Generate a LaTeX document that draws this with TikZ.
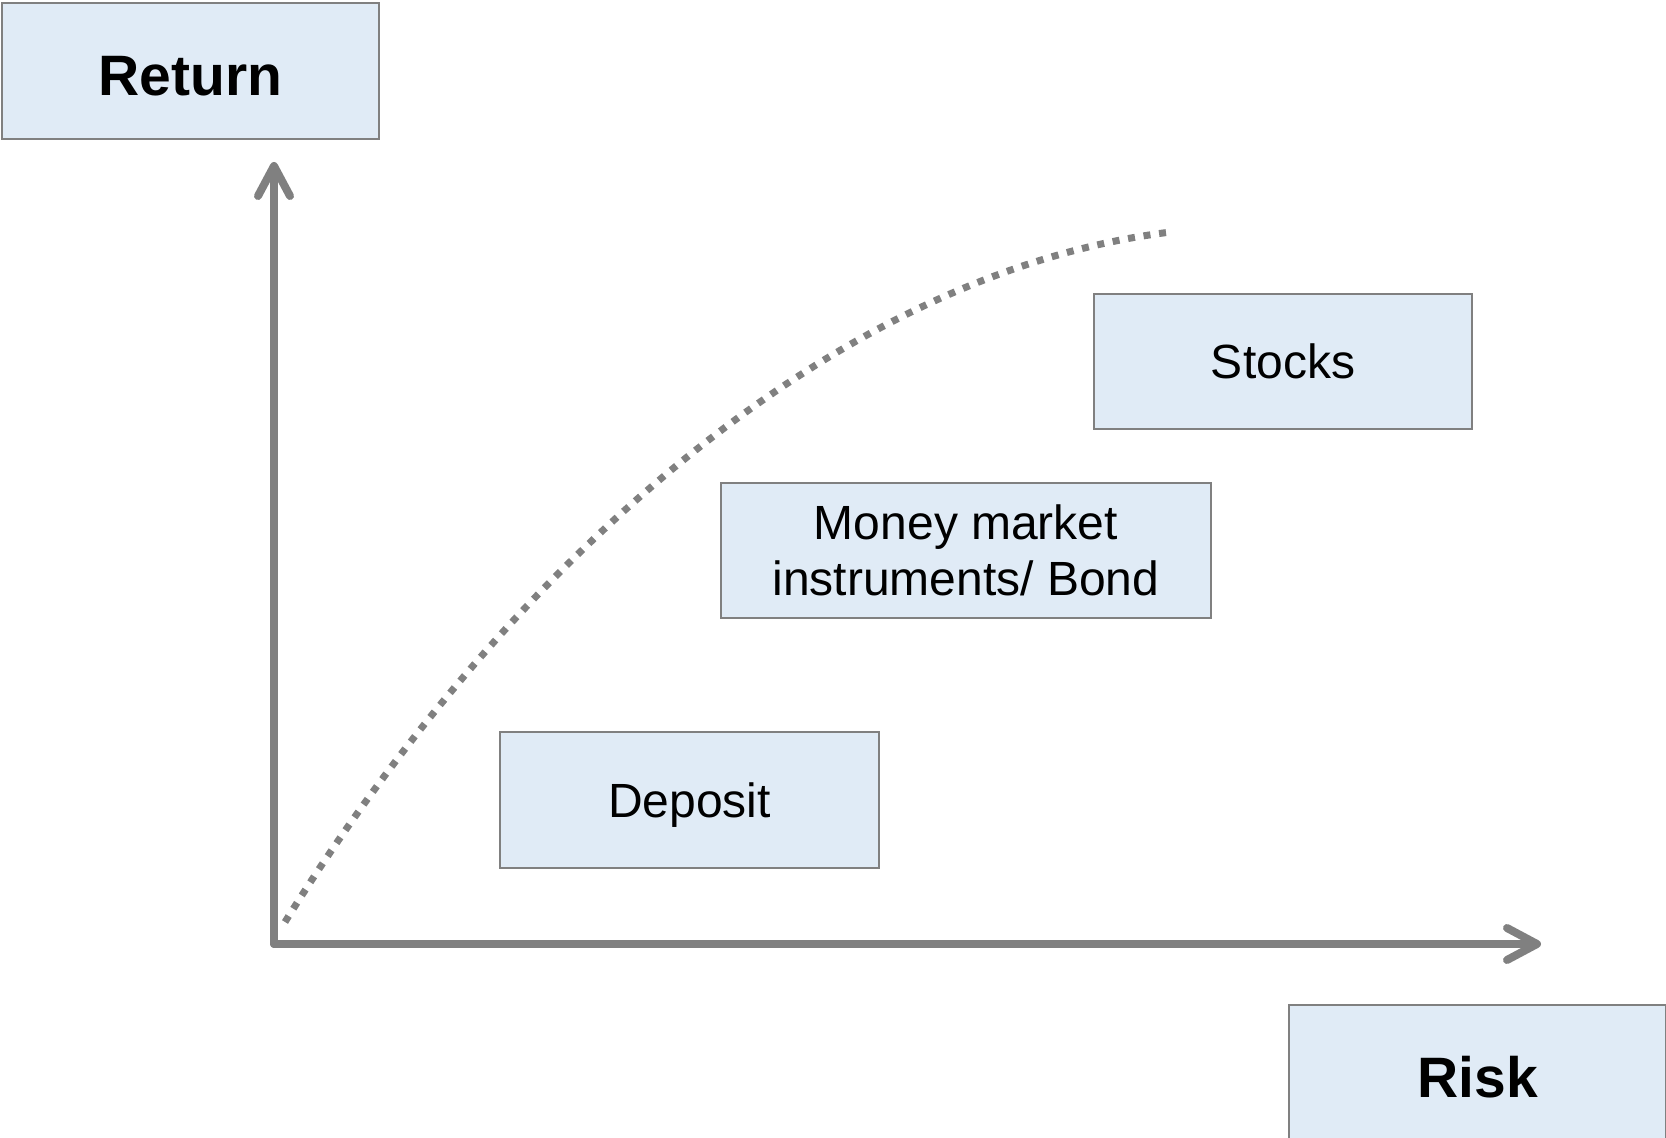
\documentclass[tikz,border=0pt]{standalone}
\usepackage{fontspec}
\setmainfont{Liberation Sans}
\usetikzlibrary{arrows.meta}

\definecolor{boxfill}{RGB}{224,235,246}
\definecolor{linegray}{RGB}{128,128,128}

\begin{document}
\begin{tikzpicture}[
    x=0.5pt, y=-0.5pt,
    % Boxes and axes
    assetbox/.style={rectangle, draw=linegray, line width=1pt, fill=boxfill,
        minimum height=67.5pt, inner sep=0pt, align=center,
        font=\fontsize{24}{28}\selectfont},
    axislabel/.style={assetbox, minimum width=188.5pt, minimum height=68pt,
        text height=24.5pt, text depth=0pt,
        font=\fontsize{28.5}{32}\selectfont\bfseries},
    axis/.style={draw=linegray, line width=4pt, line cap=round,
        -{Straight Barb[length=15pt, width=16pt, line cap=round, line join=round]}},
    frontier/.style={draw=linegray, line width=3.5pt, dash pattern=on 3.5pt off 4.35pt},
]
\useasboundingbox (0,0) rectangle (1666,1138);

% ============ Axis labels ============
\node[axislabel] (ret) at (190.5,71) {Return};
\node[axislabel] (risk) at (1477.5,1073) {Risk};

% ============ Asset classes ============
\node[assetbox, minimum width=189pt] (stocks) at (1283,361.5) {Stocks};
\node[assetbox, minimum width=245pt] (bond) at (966,550.5) {Money market\\instruments/ Bond};
\node[assetbox, minimum width=189.5pt, minimum height=68pt, text depth=0pt] (deposit) at (689.5,800) {Deposit};

% ============ Axes ============
\coordinate (origin) at (274,944);
\coordinate (ytip) at (274,162);
\coordinate (xtip) at (1541,944);
\draw[axis] (origin) -- (ytip);
\draw[axis] (origin) -- (xtip);

% ============ Risk/return curve ============
\coordinate (lowrisk) at (285,922);
\coordinate (highrisk) at (1171,232);
\draw[frontier] (lowrisk) .. controls (496,582) and (824,274) .. (highrisk);

\end{tikzpicture}
\end{document}
